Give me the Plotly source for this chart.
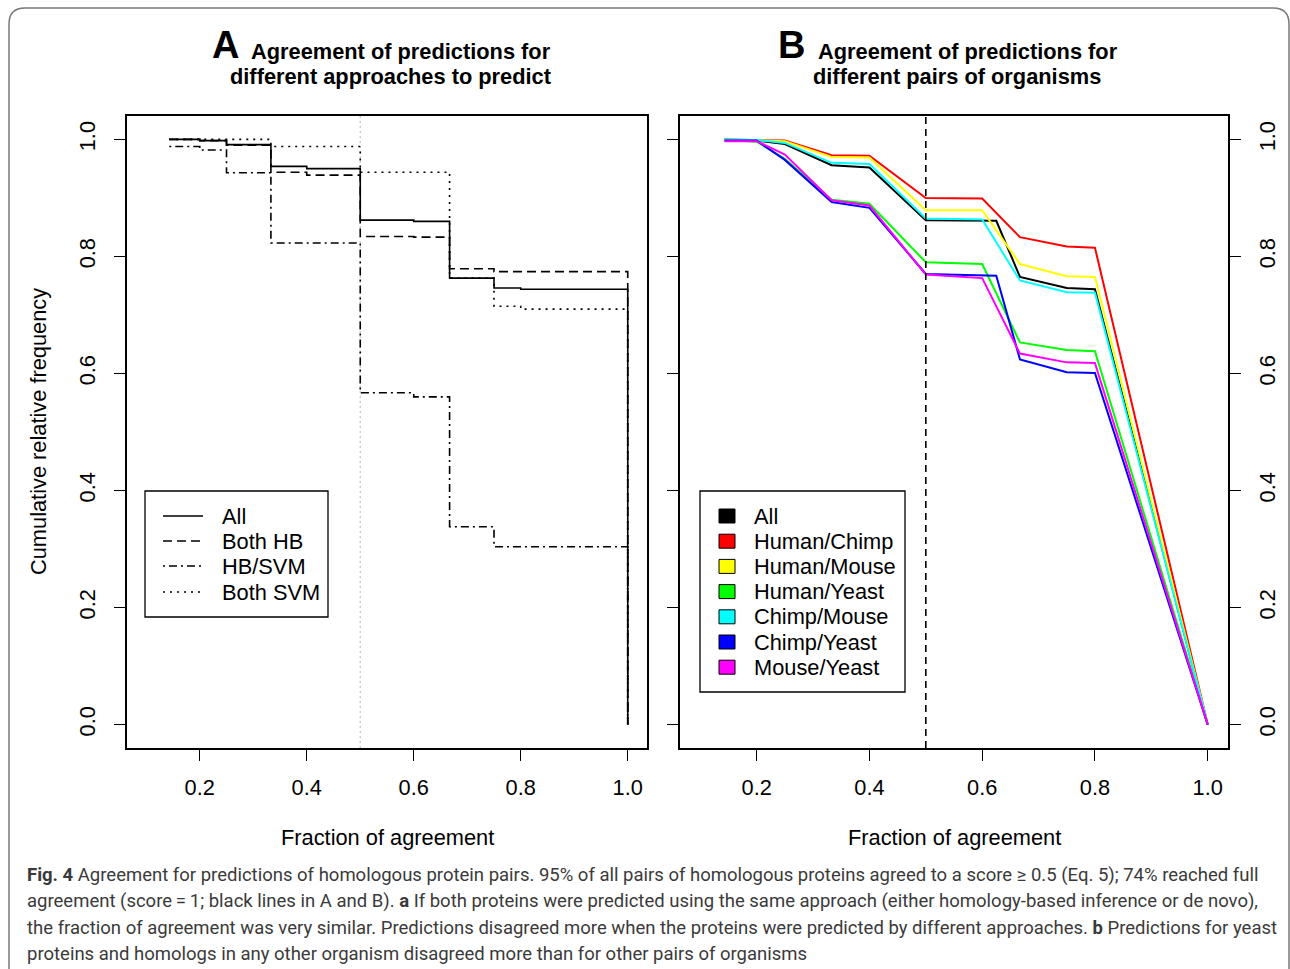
import plotly.graph_objects as go

W, H = 1290, 969

# ---------------- data ----------------
# Panel A: step curves (fraction of agreement -> cumulative relative frequency)
x_a = [0.143, 0.2, 0.25, 0.333, 0.4, 0.5, 0.6, 0.667, 0.75, 0.8, 1.0]
a_all = [1.000, 0.998, 0.991, 0.954, 0.950, 0.862, 0.860, 0.763, 0.746, 0.744, 0.0]
a_both_hb = [1.000, 0.998, 0.990, 0.944, 0.939, 0.834, 0.833, 0.779, 0.774, 0.774, 0.0]
a_hb_svm = [0.988, 0.982, 0.943, 0.823, 0.823, 0.567, 0.560, 0.338, 0.304, 0.304, 0.0]
a_both_svm = [1.000, 1.000, 1.000, 0.988, 0.988, 0.944, 0.944, 0.763, 0.715, 0.710, 0.0]
a_names = ["All", "Both HB", "HB/SVM", "Both SVM"]

# Panel B: organism pairs
x_b = [0.143, 0.2, 0.25, 0.333, 0.4, 0.5, 0.6, 0.667, 0.75, 0.8, 1.0]
x_b_alt = [0.143, 0.2, 0.25, 0.333, 0.4, 0.5, 0.625, 0.667, 0.75, 0.8, 1.0]
b_all = [1.000, 0.998, 0.992, 0.956, 0.952, 0.862, 0.861, 0.765, 0.746, 0.744, 0.0]
b_human_chimp = [1.000, 0.999, 0.998, 0.973, 0.972, 0.900, 0.899, 0.833, 0.817, 0.815, 0.0]
b_human_mouse = [1.000, 0.999, 0.997, 0.970, 0.969, 0.879, 0.879, 0.787, 0.766, 0.765, 0.0]
b_human_yeast = [0.999, 0.996, 0.967, 0.897, 0.890, 0.790, 0.787, 0.653, 0.640, 0.638, 0.0]
b_chimp_mouse = [1.000, 0.999, 0.994, 0.960, 0.958, 0.865, 0.863, 0.759, 0.739, 0.738, 0.0]
b_chimp_yeast = [0.998, 0.998, 0.965, 0.893, 0.883, 0.770, 0.767, 0.624, 0.602, 0.601, 0.0]
b_mouse_yeast = [0.997, 0.997, 0.974, 0.896, 0.887, 0.769, 0.763, 0.634, 0.619, 0.618, 0.0]
b_names = ["All", "Human/Chimp", "Human/Mouse", "Human/Yeast",
           "Chimp/Mouse", "Chimp/Yeast", "Mouse/Yeast"]
b_colors = ["#000000", "#FF0000", "#FFFF00", "#00FF00", "#00FFFF", "#0000FF", "#FF00FF"]

THRESHOLD = 0.5
x_ticks = [0.2, 0.4, 0.6, 0.8, 1.0]
y_ticks = [0.0, 0.2, 0.4, 0.6, 0.8, 1.0]

title_a = ["Agreement of predictions for", "different approaches to predict"]
title_b = ["Agreement of predictions for", "different pairs of organisms"]
x_title = "Fraction of agreement"
y_title = "Cumulative relative frequency"

caption = [
    "<b>Fig. 4</b> Agreement for predictions of homologous protein pairs. 95% of all pairs of homologous proteins agreed to a score \u2265 0.5 (Eq. 5); 74% reached full",
    "agreement (score\u2009=\u20091; black lines in A and B). <b>a</b> If both proteins were predicted using the same approach (either homology-based inference or de novo),",
    "the fraction of agreement was very similar. Predictions disagreed more when the proteins were predicted by different approaches. <b>b</b> Predictions for yeast",
    "proteins and homologs in any other organism disagreed more than for other pairs of organisms",
]

# ---------------- helpers ----------------
def px(x):
    return x / W

def py(y):
    return 1 - y / H

FONT = "Liberation Sans, Arial, Helvetica, sans-serif"
CAP_FONT = "Roboto, Liberation Sans, sans-serif"
FS = 21.8

fig = go.Figure()

a_series = [a_all, a_both_hb, a_hb_svm, a_both_svm]
a_dash = ["solid", "9px,5px", "2px,4px,8px,4px", "2px,5px"]
for name, ys, d in zip(a_names, a_series, a_dash):
    fig.add_trace(go.Scatter(x=x_a, y=ys, mode="lines", name=name, line_shape="hv",
                             line=dict(color="black", width=1.6, dash=d),
                             xaxis="x", yaxis="y", showlegend=False))

b_series = [b_all, b_human_chimp, b_human_mouse, b_human_yeast,
            b_chimp_mouse, b_chimp_yeast, b_mouse_yeast]
b_xs = [x_b_alt, x_b, x_b, x_b, x_b, x_b_alt, x_b]
for name, xs, ys, c in zip(b_names, b_xs, b_series, b_colors):
    fig.add_trace(go.Scatter(x=xs, y=ys, mode="lines", name=name,
                             line=dict(color=c, width=2),
                             xaxis="x2", yaxis="y2", showlegend=False))

# plot regions in pixels
A_L, A_R, TOP, BOT = 127, 647, 116, 748
B_L, B_R = 680, 1228

axis_common = dict(showgrid=False, zeroline=False, showline=True, linecolor="black",
                   linewidth=2, ticks="outside", ticklen=11, tickwidth=1.3,
                   tickcolor="black", tickfont=dict(family=FONT, size=FS, color="black"))

fig.update_layout(
    width=W, height=H, margin=dict(l=0, r=0, t=0, b=0),
    paper_bgcolor="white", plot_bgcolor="white",
    xaxis=dict(domain=[px(A_L), px(A_R)], range=[0.064, 1.036], tickvals=x_ticks,
               tickformat=".1f", anchor="y", mirror=True, ticklabelstandoff=8, **axis_common),
    yaxis=dict(domain=[py(BOT), py(TOP)], range=[-0.04, 1.04], tickvals=y_ticks,
               tickformat=".1f", anchor="x", mirror=True, tickangle=-90,
               ticklabelstandoff=10, **axis_common),
    xaxis2=dict(domain=[px(B_L), px(B_R)], range=[0.064, 1.036], tickvals=x_ticks,
                tickformat=".1f", anchor="y2", mirror=True, ticklabelstandoff=8, **axis_common),
    yaxis2=dict(domain=[py(BOT), py(TOP)], range=[-0.04, 1.04], tickvals=y_ticks,
                tickformat=".1f", anchor="x2", side="right", mirror="allticks",
                tickangle=-90, ticklabelstandoff=8, **axis_common),
)

shapes = []
annotations = []

# threshold lines
shapes.append(dict(type="line", xref="x", yref="y domain", x0=THRESHOLD, x1=THRESHOLD,
                   y0=0, y1=1, line=dict(color="#c8c8c8", width=1.3, dash="2px,3px"),
                   layer="below"))
shapes.append(dict(type="line", xref="x2", yref="y2 domain", x0=THRESHOLD, x1=THRESHOLD,
                   y0=0, y1=1, line=dict(color="black", width=1.6, dash="7px,5px")))

def ann(text, x, y, size, bold=False, xanchor="center", angle=0, family=FONT, color="black"):
    annotations.append(dict(text=("<b>%s</b>" % text) if bold else text,
                            x=px(x), y=py(y), xref="paper", yref="paper",
                            xanchor=xanchor, yanchor="middle", showarrow=False,
                            textangle=angle, font=dict(family=family, size=size, color=color)))

# titles
ann("A", 225, 45, 38, bold=True)
ann(title_a[0], 401, 52, FS, bold=True)
ann(title_a[1], 390, 77, FS, bold=True)
ann("B", 791, 45, 38, bold=True)
ann(title_b[0], 968, 52, FS, bold=True)
ann(title_b[1], 957, 77, FS, bold=True)

ann(x_title, (A_L + A_R) / 2, 837, FS)
ann(x_title, (B_L + B_R) / 2, 837, FS)
ann(y_title, 38, (TOP + BOT) / 2, FS, angle=-90)

# legend A
shapes.append(dict(type="rect", xref="paper", yref="paper", x0=px(145), x1=px(328),
                   y0=py(491), y1=py(617), line=dict(color="black", width=1.3),
                   fillcolor="white"))
leg_y = [516, 541, 566, 592]
for name, d, yy in zip(a_names, a_dash, leg_y):
    shapes.append(dict(type="line", xref="paper", yref="paper", x0=px(163), x1=px(203),
                       y0=py(yy), y1=py(yy), line=dict(color="black", width=1.4, dash=d)))
    ann(name, 220, yy, FS, xanchor="left")

# legend B
shapes.append(dict(type="rect", xref="paper", yref="paper", x0=px(700), x1=px(905),
                   y0=py(491), y1=py(692), line=dict(color="black", width=1.3),
                   fillcolor="white"))
for i, (name, c) in enumerate(zip(b_names, b_colors)):
    yy = 516 + i * 25.2
    shapes.append(dict(type="rect", xref="paper", yref="paper", x0=px(719), x1=px(735),
                       y0=py(yy + 7), y1=py(yy - 7), line=dict(color="black", width=1),
                       fillcolor=c))
    ann(name, 752, yy, FS, xanchor="left")

# caption
cap_y = [875, 901, 928, 954]
for line, yy in zip(caption, cap_y):
    ann(line, 25, yy, 18.5, xanchor="left", family=CAP_FONT, color="#3a3a3a")

# outer frame with rounded top corners
r = 16
path = "M {a},{b} L {a},{c} Q {a},{d} {e},{d} L {f},{d} Q {g},{d} {g},{c} L {g},{b}".format(
    a=px(9), b=py(975), c=py(8 + r), d=py(8), e=px(9 + r), f=px(1289 - r), g=px(1289))
shapes.append(dict(type="path", xref="paper", yref="paper", path=path,
                   line=dict(color="#7a7a7a", width=1.5)))

fig.update_layout(shapes=shapes, annotations=annotations)
fig.write_html("out.html", config={"displayModeBar": False},
               post_script="document.body.style.margin='0';document.body.style.overflow='hidden';")
